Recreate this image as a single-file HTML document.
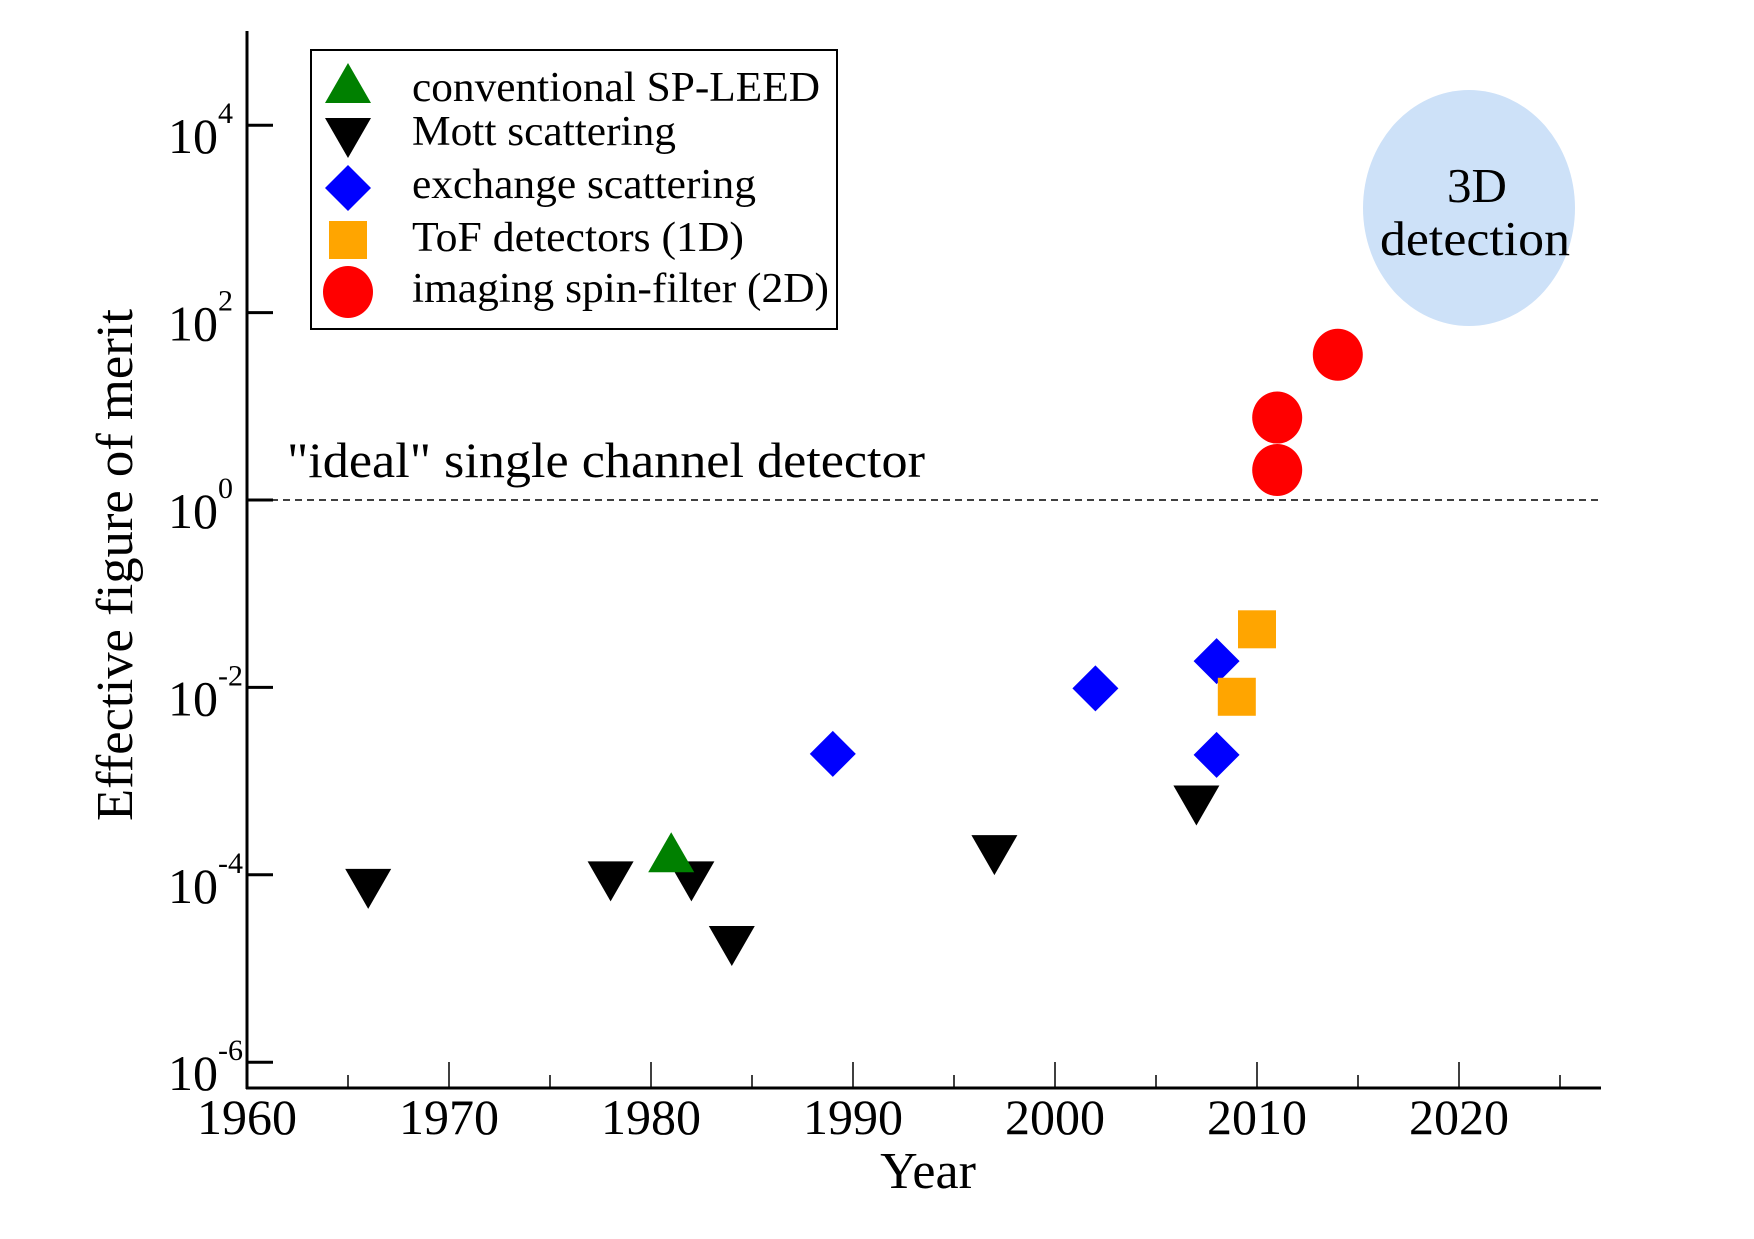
<!DOCTYPE html>
<html><head><meta charset="utf-8"><style>
body{margin:0;background:#fff}
svg{display:block;font-family:"Liberation Serif",serif}
</style></head><body>
<svg id="chart" width="1754" height="1239" viewBox="0 0 1754 1239" xmlns="http://www.w3.org/2000/svg">
<g id="plot"></g>
</svg>
<script>
const xTicks=[1960,1970,1980,1990,2000,2010,2020];
const yTicks=[-6,-4,-2,0,2,4];
const mottYears=[1966,1978,1982,1984,1997,2007];
const mottVals=[-4.15,-4.07,-4.07,-4.76,-3.79,-3.26];
const leedYears=[1981];
const leedVals=[-3.76];
const exchYears=[1989,2002,2008,2008];
const exchVals=[-2.71,-2.01,-1.72,-2.72];
const tofYears=[2010,2009];
const tofVals=[-1.38,-2.10];
const imgYears=[2011,2011,2014];
const imgVals=[0.88,0.32,1.55];

const NS='http://www.w3.org/2000/svg';
const g=document.getElementById('plot');
const AX=1088;
function X(yr){return 247+(yr-1960)*20.2;}
function Y(l){return 500-l*93.7;}
function mk(tag,attrs,parent){const e=document.createElementNS(NS,tag);for(const k in attrs)e.setAttribute(k,attrs[k]);(parent||g).appendChild(e);return e;}

let e=mk('line',{x1:247,y1:31,x2:247,y2:AX+1,stroke:'#000','stroke-width':3});


e=mk('line',{x1:246,y1:AX,x2:1601,y2:AX,stroke:'#000','stroke-width':3});


for(let yr=1965;yr<=2025;yr+=10){
 e=mk('line',{x1:X(yr),y1:AX,x2:X(yr),y2:AX-13,stroke:'#000','stroke-width':1.5});
 
 
}
xTicks.forEach(t=>{
 e=mk('line',{x1:X(t),y1:AX,x2:X(t),y2:AX-26,stroke:'#000','stroke-width':1.5});
 
 
 e=mk('text',{x:X(t),y:AX+46,'font-size':50,'text-anchor':'middle'});
 e.textContent=t;
 
 
});
yTicks.forEach(t=>{
 e=mk('line',{x1:247,y1:Y(t),x2:273,y2:Y(t),stroke:'#000','stroke-width':3});
 
 
 e=mk('text',{x:218,y:Y(t)+28,'font-size':50,'text-anchor':'end'});
 e.textContent='10';
 
 
 e=mk('text',{x:218,y:Y(t)-2,'font-size':30,'text-anchor':'start'});
 e.textContent=String(t);
 
 
});
e=mk('text',{x:928,y:1188,'font-size':52,'text-anchor':'middle'});
e.textContent='Year';


e=mk('text',{x:0,y:0,'font-size':52,'text-anchor':'middle',textLength:512,lengthAdjust:'spacingAndGlyphs',transform:'translate(132,565) rotate(-90)'});
e.textContent='Effective figure of merit';


e=mk('line',{x1:247,y1:Y(0),x2:1601,y2:Y(0),stroke:'#000','stroke-width':1.5,'stroke-dasharray':'7,5'});


e=mk('text',{x:287,y:477,'font-size':50,textLength:638,lengthAdjust:'spacingAndGlyphs'});
e.textContent='"ideal" single channel detector';


e=mk('ellipse',{cx:1469,cy:208,rx:106,ry:118,fill:'#cde1f8'});


e=mk('text',{x:1477,y:202,'font-size':49,'text-anchor':'middle'});
e.textContent='3D';


e=mk('text',{x:1475,y:255,'font-size':49,'text-anchor':'middle',textLength:190,lengthAdjust:'spacingAndGlyphs'});
e.textContent='detection';



function tri(cx,cy,up,fill){const h=20,w=23;
 const p=up?`${cx-w},${cy+h} ${cx+w},${cy+h} ${cx},${cy-h}`:`${cx-w},${cy-h} ${cx+w},${cy-h} ${cx},${cy+h}`;
 return mk('polygon',{points:p,fill:fill});}
function dia(cx,cy){const r=23;return mk('polygon',{points:`${cx},${cy-r} ${cx+r},${cy} ${cx},${cy+r} ${cx-r},${cy}`,fill:'#0000ff'});}
function sq(cx,cy){return mk('rect',{x:cx-19,y:cy-19,width:38,height:38,fill:'#ffa500'});}
function circ(cx,cy){return mk('ellipse',{cx:cx,cy:cy,rx:25,ry:26,fill:'#ff0000'});}

mottYears.forEach((yr,i)=>{e=tri(X(yr),Y(mottVals[i]),false,'#000');
 
 });
leedYears.forEach((yr,i)=>{e=tri(X(yr),Y(leedVals[i]),true,'#008000');
 
 });
exchYears.forEach((yr,i)=>{e=dia(X(yr),Y(exchVals[i]));
 
 });
tofYears.forEach((yr,i)=>{e=sq(X(yr),Y(tofVals[i]));
 
 });
imgYears.forEach((yr,i)=>{e=circ(X(yr),Y(imgVals[i]));
 
 });

e=mk('rect',{x:311,y:50,width:526,height:279,fill:'#fff',stroke:'#000','stroke-width':2});


const legTexts=['conventional SP-LEED','Mott scattering','exchange scattering','ToF detectors (1D)','imaging spin-filter (2D)'];
const legLen=[408,264,344,332,417];
const legY=[83,138,188,240,292];
e=tri(348,legY[0],true,'#008000');


e=tri(348,legY[1],false,'#000');


e=dia(348,legY[2]);


e=sq(348,legY[3]);


e=circ(348,legY[4]);


const legBase=[101,145,198,251,302];
legTexts.forEach((t,i)=>{e=mk('text',{x:412,y:legBase[i],'font-size':42,textLength:legLen[i],lengthAdjust:'spacingAndGlyphs'});
 e.textContent=t;
 
 });
</script>
</body></html>
